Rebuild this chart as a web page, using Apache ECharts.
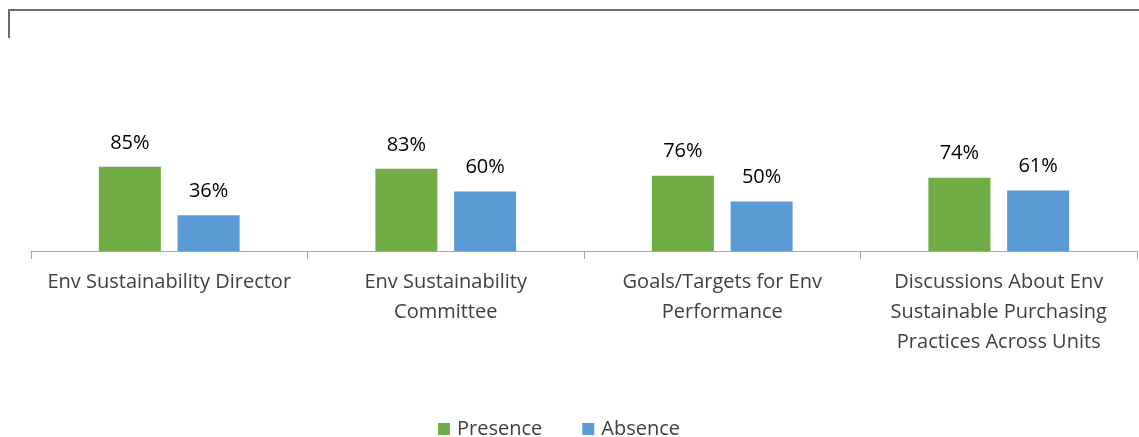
<!DOCTYPE html>
<html>
<head>
<meta charset="utf-8">
<script src="https://cdn.jsdelivr.net/npm/echarts@6/dist/echarts.min.js"></script>
<style>
html,body{margin:0;padding:0;background:#fff;}
#chart{width:1139px;height:437px;}
</style>
</head>
<body>
<div id="chart"></div>
<script>
var categories=['Env Sustainability Director','Env Sustainability\nCommittee','Goals/Targets for Env\nPerformance','Discussions About Env\nSustainable Purchasing\nPractices Across Units'];
var presence=[85,83,76,74];
var absence=[36,60,50,61];
var seriesNames=['Presence','Absence'];

var myChart=echarts.init(document.getElementById('chart'));
var labelStyle={
	show:true,
	position:'top',
	distance:14,
	formatter:'{c}%',
	color:'#000',
	fontSize:20,
	fontFamily:'Open Sans'
};
var option={
	backgroundColor:'#fff',
	animation:false,
	textStyle:{fontFamily:'Open Sans'},
	grid:{left:31,right:2,top:152,bottom:186},
	legend:{
		top:414,
		left:433,
		itemWidth:12,
		itemHeight:12,
		itemGap:40,
		icon:'rect',
		textStyle:{fontSize:20,color:'#404040',fontFamily:'Open Sans',padding:[0,0,0,2]},
		data:seriesNames
	},
	graphic:[{
		type:'polyline',
		shape:{points:[[9,38],[9,10],[1139,10]]},
		style:{stroke:'#6b6b6b',lineWidth:2,fill:null}
	}],
	xAxis:{
		type:'category',
		data:categories,
		axisLine:{lineStyle:{color:'#a6a6a6',width:1}},
		axisTick:{show:true,length:8,lineStyle:{color:'#a6a6a6'}},
		axisLabel:{fontSize:20,color:'#404040',lineHeight:30,margin:16,interval:0,fontFamily:'Open Sans'}
	},
	yAxis:{
		type:'value',
		min:0,
		max:100,
		show:false
	},
	series:[
		{name:seriesNames[0],type:'bar',data:presence,barWidth:62,barGap:'27%',itemStyle:{color:'#70ad47'},label:labelStyle},
		{name:seriesNames[1],type:'bar',data:absence,barWidth:62,itemStyle:{color:'#5b9bd5'},label:labelStyle}
	]
};
myChart.setOption(option);
</script>
</body>
</html>
